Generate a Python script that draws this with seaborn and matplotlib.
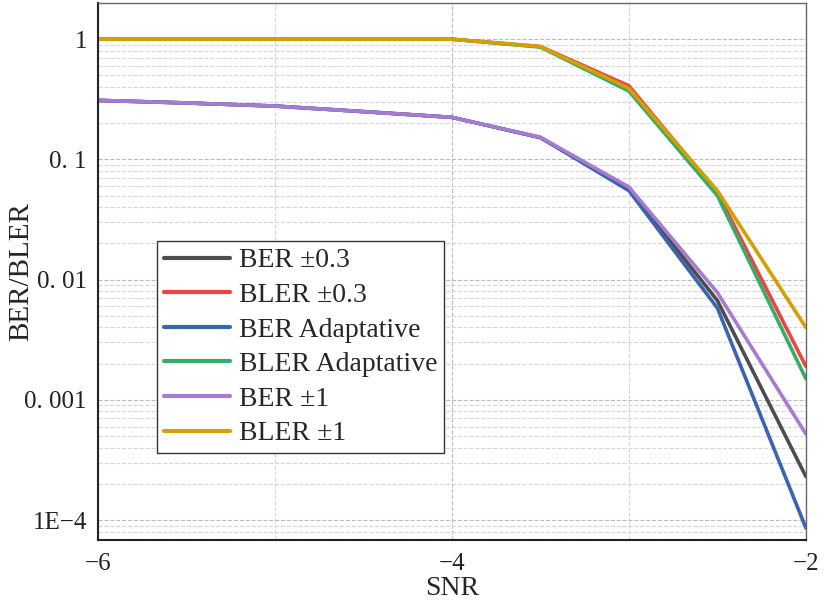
import numpy as np
import pandas as pd
import matplotlib
matplotlib.use('Agg')
import matplotlib.pyplot as plt
import seaborn as sns
from matplotlib.ticker import FixedLocator, FixedFormatter, NullFormatter

snr = [-6, -5.5, -5, -4.5, -4, -3.5, -3, -2.5, -2]

ber_03 = [0.31, 0.295, 0.278, 0.25, 0.224, 0.152, 0.057, 0.0067, 0.00023]
bler_03 = [1.0, 1.0, 1.0, 1.0, 1.0, 0.87, 0.41, 0.053, 0.0019]
ber_adapt = [0.31, 0.295, 0.278, 0.25, 0.224, 0.152, 0.055, 0.0058, 0.000086]
bler_adapt = [1.0, 1.0, 1.0, 1.0, 1.0, 0.86, 0.37, 0.050, 0.0015]
ber_1 = [0.31, 0.295, 0.278, 0.25, 0.224, 0.153, 0.059, 0.0078, 0.00052]
bler_1 = [1.0, 1.0, 1.0, 1.0, 1.0, 0.87, 0.39, 0.055, 0.004]

names = ['BER \u00b10.3', 'BLER \u00b10.3', 'BER Adaptative', 'BLER Adaptative',
         'BER \u00b11', 'BLER \u00b11']
series = [ber_03, bler_03, ber_adapt, bler_adapt, ber_1, bler_1]
colors = ['#4d4d4d', '#ec4444', '#3b63ae', '#3aaa6a', '#a87bd2', '#d4a000']

rows = []
for n, vals in zip(names, series):
    for x, v in zip(snr, vals):
        rows.append({'SNR': x, 'val': v, 'curve': n})
df = pd.DataFrame(rows)

sns.set_style('white')
plt.rcParams['font.family'] = ['Liberation Serif', 'DejaVu Serif']

fig = plt.figure(figsize=(8.24, 6.09), dpi=100)
ax = fig.add_axes([0.119, 0.113, 0.859, 0.882])

sns.lineplot(data=df, x='SNR', y='val', hue='curve', hue_order=names,
             palette=colors, linewidth=2.6, ax=ax, sort=False)

ax.set_yscale('log')
ax.set_xlim(-6, -2)
ax.set_ylim(6.8e-5, 2.0)

ax.xaxis.set_major_locator(FixedLocator([-6, -4, -2]))
ax.xaxis.set_major_formatter(FixedFormatter(['\u22126', '\u22124', '\u22122']))
ax.xaxis.set_minor_locator(FixedLocator([-5, -3]))

yt = [1e-4, 1e-3, 1e-2, 1e-1, 1]
ax.yaxis.set_major_locator(FixedLocator(yt))
ax.yaxis.set_major_formatter(FixedFormatter(['1E\u22124', '0. 001', '0. 01', '0. 1', '1']))
ax.yaxis.set_minor_locator(matplotlib.ticker.LogLocator(base=10, subs=np.arange(2, 10)))
ax.yaxis.set_minor_formatter(NullFormatter())

ax.tick_params(axis='both', which='major', direction='in', length=7, width=1.3,
               labelsize=18, colors='#222222')
ax.tick_params(axis='both', which='minor', direction='in', length=4, width=1.1)
ax.tick_params(axis='x', pad=9)
ax.tick_params(axis='y', pad=8)

ax.grid(True, which='major', axis='both', color='#bbbbbb', linestyle='--', linewidth=0.8)
ax.grid(True, which='minor', axis='both', color='#d6d6d6', linestyle='--', linewidth=0.8)

for s in ['left', 'bottom']:
    ax.spines[s].set_color('#222222')
    ax.spines[s].set_linewidth(1.5)
for s in ['top', 'right']:
    ax.spines[s].set_color('#666666')
    ax.spines[s].set_linewidth(1.0)

ax.set_xlabel('SNR', fontsize=20, labelpad=1)
ax.set_ylabel('BER/BLER', fontsize=21)
ax.yaxis.set_label_coords(-0.09, 0.5)

leg = ax.legend(loc='upper left', bbox_to_anchor=(0.083, 0.557), fontsize=20,
                frameon=True, fancybox=False, edgecolor='#333333', framealpha=1,
                handlelength=2.4, handletextpad=0.3, labelspacing=0.33,
                borderpad=0.25, borderaxespad=0)
leg.get_frame().set_linewidth(1.0)
for line in leg.get_lines():
    line.set_linewidth(3)

fig.savefig('out.png', dpi=100)
